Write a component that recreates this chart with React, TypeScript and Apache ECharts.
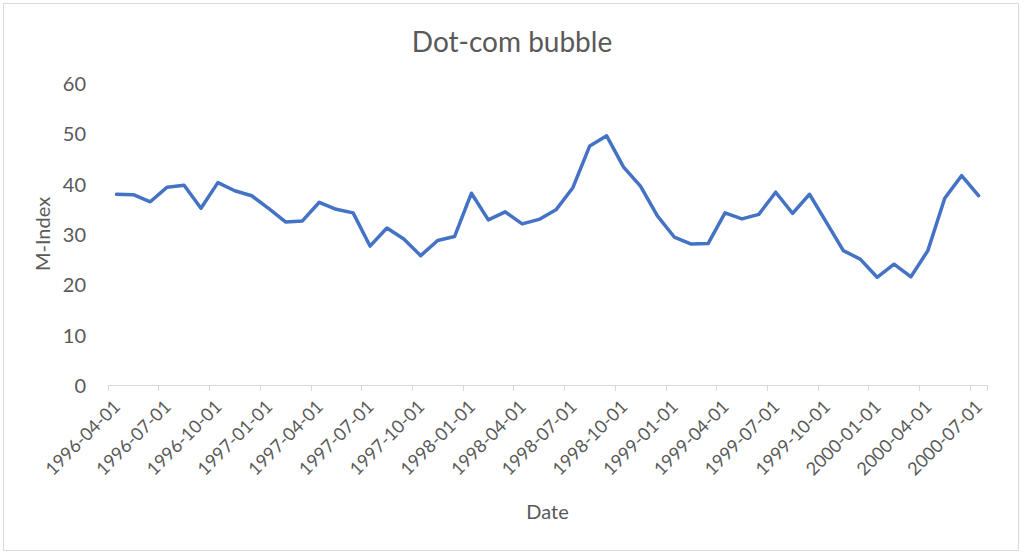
import React, { useEffect, useRef } from "react";
import * as echarts from "echarts";

const dates: string[] = [
  "1996-04-01","1996-05-01","1996-06-01","1996-07-01","1996-08-01","1996-09-01",
  "1996-10-01","1996-11-01","1996-12-01","1997-01-01","1997-02-01","1997-03-01",
  "1997-04-01","1997-05-01","1997-06-01","1997-07-01","1997-08-01","1997-09-01",
  "1997-10-01","1997-11-01","1997-12-01","1998-01-01","1998-02-01","1998-03-01",
  "1998-04-01","1998-05-01","1998-06-01","1998-07-01","1998-08-01","1998-09-01",
  "1998-10-01","1998-11-01","1998-12-01","1999-01-01","1999-02-01","1999-03-01",
  "1999-04-01","1999-05-01","1999-06-01","1999-07-01","1999-08-01","1999-09-01",
  "1999-10-01","1999-11-01","1999-12-01","2000-01-01","2000-02-01","2000-03-01",
  "2000-04-01","2000-05-01","2000-06-01","2000-07-01",
];

const mIndex: number[] = [
  37.9, 37.8, 36.4, 39.3, 39.7, 35.1,
  40.2, 38.6, 37.6, 35.1, 32.4, 32.6,
  36.3, 34.9, 34.2, 27.6, 31.2, 29.0,
  25.7, 28.7, 29.5, 38.1, 32.8, 34.4,
  32.0, 32.9, 34.8, 39.2, 47.5, 49.5,
  43.3, 39.5, 33.6, 29.4, 28.0, 28.1,
  34.2, 33.0, 33.9, 38.3, 34.1, 37.9,
  32.3, 26.7, 25.0, 21.4, 24.0, 21.5,
  26.7, 37.1, 41.6, 37.6,
];

const FONT = "Lato, 'Open Sans', sans-serif";
const TEXT = "#595959";

export default function App() {
  const ref = useRef<HTMLDivElement>(null);

  useEffect(() => {
    document.body.style.margin = "0";
    if (!ref.current) return;
    const chart = echarts.init(ref.current, undefined, { renderer: "svg" });
    chart.setOption({
      animation: false,
      backgroundColor: "#ffffff",
      title: {
        text: "Dot-com bubble",
        left: "center",
        top: 22,
        textStyle: { fontFamily: FONT, fontSize: 28, fontWeight: "normal", color: TEXT },
      },
      graphic: [
        {
          type: "rect",
          shape: { x: 3.5, y: 3.5, width: 1015, height: 547 },
          style: { fill: "none", stroke: "#d9d9d9", lineWidth: 1 },
          silent: true,
        },
      ],
      grid: { left: 108, right: 37, top: 83, bottom: 169 },
      xAxis: {
        type: "category",
        data: dates,
        boundaryGap: true,
        name: "Date",
        nameLocation: "middle",
        nameGap: 116,
        nameTextStyle: { fontFamily: FONT, fontSize: 20, color: TEXT },
        axisLine: { lineStyle: { color: "#d9d9d9", width: 1 } },
        axisTick: { show: true, interval: 2, length: 6, lineStyle: { color: "#d9d9d9" } },
        axisLabel: {
          interval: 2,
          rotate: 45,
          margin: 18,
          fontFamily: FONT,
          fontSize: 18,
          color: TEXT,
        },
        splitLine: { show: false },
      },
      yAxis: {
        type: "value",
        min: 0,
        max: 60,
        interval: 10,
        name: "M-Index",
        nameLocation: "middle",
        nameGap: 56,
        nameTextStyle: { fontFamily: FONT, fontSize: 20, color: TEXT },
        axisLine: { show: false },
        axisTick: { show: false },
        axisLabel: { fontFamily: FONT, fontSize: 20, color: TEXT, margin: 22 },
        splitLine: { show: false },
      },
      series: [
        {
          type: "line",
          data: mIndex,
          symbol: "none",
          lineStyle: { color: "#4472C4", width: 3.5, join: "round", cap: "round" },
          itemStyle: { color: "#4472C4" },
        },
      ],
    });
    return () => chart.dispose();
  }, []);

  return <div ref={ref} style={{ width: 1024, height: 554 }} />;
}
